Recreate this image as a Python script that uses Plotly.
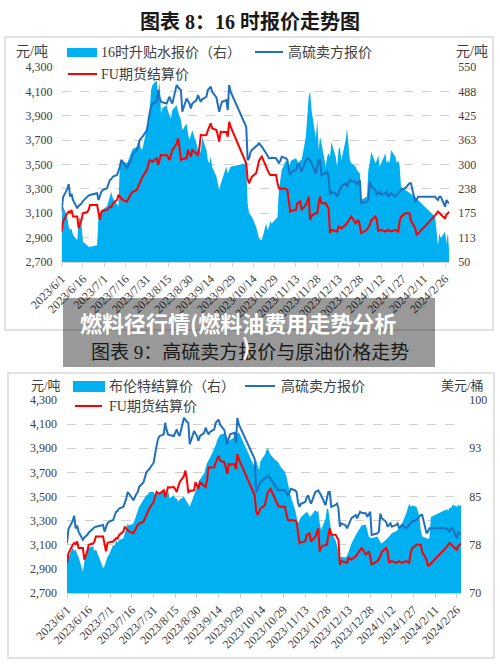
import plotly.graph_objects as go
import pandas as pd

W, H = 500, 667
def px(x): return x / W
def py(y): return 1 - y / H

# ---------------- data ----------------
trade_days = [
    (2023, 6, [1, 2, 5, 6, 7, 8, 9, 12, 13, 14, 15, 16, 19, 20, 21, 26, 27, 28, 29, 30]),
    (2023, 7, [3, 4, 5, 6, 7, 10, 11, 12, 13, 14, 17, 18, 19, 20, 21, 24, 25, 26, 27, 28, 31]),
    (2023, 8, [1, 2, 3, 4, 7, 8, 9, 10, 11, 14, 15, 16, 17, 18, 21, 22, 23, 24, 25, 28, 29, 30, 31]),
    (2023, 9, [1, 4, 5, 6, 7, 8, 11, 12, 13, 14, 15, 18, 19, 20, 21, 22, 25, 26, 27, 28]),
    (2023, 10, [9, 10, 11, 12, 13, 16, 17, 18, 19, 20, 23, 24, 25, 26, 27, 30, 31]),
    (2023, 11, [1, 2, 3, 6, 7, 8, 9, 10, 13, 14, 15, 16, 17, 20, 21, 22, 23, 24, 27, 28, 29, 30]),
    (2023, 12, [1, 4, 5, 6, 7, 8, 11, 12, 13, 14, 15, 18, 19, 20, 21, 22, 25, 26, 27, 28, 29]),
    (2024, 1, [2, 3, 4, 5, 8, 9, 10, 11, 12, 15, 16, 17, 18, 19, 22, 23, 24, 25, 26, 29, 30, 31]),
    (2024, 2, [1, 2, 5, 6, 7, 8, 19, 20, 21, 22, 23, 26, 27, 28, 29]),
]
dates = [f"{y}-{m:02d}-{d:02d}" for y, m, ds in trade_days for d in ds]

# 高硫卖方报价 (元/吨)
hs_offer = [
    3113, 3230, 3300, 3340, 3236, 3260, 3209, 3141, 3160, 3170, 3180, 3200, 3236, 3245, 3250, 3264, 3209, 3255, 3277, 3290,
    3305, 3340, 3373, 3380, 3400, 3414, 3441, 3480, 3537, 3523, 3469, 3500, 3520, 3537, 3580, 3619, 3660, 3701, 3715, 3728, 3780,
    3865, 3920, 3974, 4000, 4015, 4111, 4050, 4015, 4010, 4001, 4030, 4056, 4020, 4001, 4152, 4130, 4120, 4111, 3933, 4042, 4020, 4001, 3960,
    4000, 4028, 4070, 4040, 4015, 4035, 4056, 4111, 4125, 4138, 4097, 4050, 3990, 3933, 3980, 4015, 4028, 3947, 4152, 4097,
    3810, 3537, 3551, 3600, 3620, 3646, 3660, 3674, 3660, 3646, 3592, 3570, 3551, 3551, 3555, 3551, 3530,
    3510, 3530, 3564, 3550, 3537, 3450, 3414, 3440, 3455, 3490, 3510, 3470, 3441, 3537, 3545, 3551, 3530, 3510, 3428, 3480, 3537, 3537,
    3414, 3430, 3441, 3400, 3250, 3277, 3260, 3236, 3270, 3291, 3320, 3346, 3318, 3350, 3373, 3365, 3359, 3332, 3350, 3373, 3182,
    3195, 3209, 3359, 3320, 3291, 3250, 3265, 3277, 3250, 3265, 3277, 3236, 3250, 3264, 3236, 3250, 3264, 3280, 3291, 3305, 3318, 3330,
    3346, 3346, 3195, 3210, 3236, 3236, 3236, 3220, 3209, 3236, 3236, 3154, 3209, 3190, 3182,
]

# FU期货结算价 (元/吨)
fu_settle = [
    2949, 3030, 3100, 3113, 3105, 3127, 3073, 3073, 2977, 3010, 3045, 3100, 3110, 3127, 3168, 3168, 3100, 3045, 3113, 3120,
    3127, 3140, 3154, 3150, 3180, 3209, 3250, 3235, 3223, 3210, 3195, 3220, 3240, 3264, 3275, 3291, 3320, 3346, 3380, 3400, 3455,
    3500, 3537, 3530, 3523, 3551, 3496, 3540, 3578, 3575, 3578, 3560, 3537, 3580, 3619, 3670, 3715, 3640, 3537, 3545, 3551, 3619, 3590, 3564,
    3619, 3590, 3578, 3632, 3742, 3740, 3742, 3780, 3810, 3838, 3797, 3783, 3740, 3687, 3769, 3765, 3769, 3728, 3851, 3810,
    3510, 3380, 3346, 3380, 3400, 3428, 3480, 3530, 3550, 3564, 3482, 3450, 3430, 3414, 3414, 3414, 3350,
    3305, 3300, 3305, 3300, 3291, 3200, 3113, 3120, 3127, 3182, 3190, 3195, 3127, 3168, 3200, 3236, 3045, 3080, 3100, 3100, 3180, 3236,
    3182, 3182, 3160, 3141, 2936, 2964, 2955, 2950, 2990, 2985, 2977, 3004, 3020, 3045, 3060, 3073, 3018, 3030, 3045, 3000, 2936,
    2964, 2985, 3004, 3040, 3073, 3045, 2950, 2960, 2964, 2950, 2958, 2964, 2955, 2950, 2964, 2955, 2950, 3032, 3070, 3100, 3100, 3095,
    3100, 3040, 2977, 2922, 2930, 2945, 3082, 3100, 3113, 3105, 3090, 3059, 3090, 3100, 3113,
]

# 16时升贴水报价 (右轴)
spread_16 = [
    158, 192, 166, 140, 132, 136, 120, 106, 158, 166, 149, 102, 93, 89, 89, 93, 166, 175, 179, 185,
    192, 205, 217, 230, 215, 200, 192, 303, 311, 308, 303, 311, 320, 333, 340, 345, 352, 358, 337, 341, 393,
    420, 440, 491, 504, 516, 478, 512, 431, 445, 452, 435, 425, 418, 440, 452, 435, 425, 414, 388, 405, 380, 363, 375,
    388, 354, 337, 354, 329, 371, 337, 310, 303, 320, 294, 269, 250, 235, 250, 260, 294, 277, 286, 294,
    303, 200, 175, 170, 166, 140, 124, 111, 108, 106, 149, 132, 140, 154, 149, 162, 165,
    235, 260, 286, 311, 300, 294, 305, 311, 316, 310, 303, 311, 311, 371, 414, 474, 487, 440, 367, 414, 337, 371,
    354, 294, 320, 329, 320, 358, 320, 294, 337, 345, 311, 363, 393, 354, 311, 303, 295, 286, 280, 277, 209,
    218, 286, 303, 333, 303, 311, 324, 294, 303, 329, 303, 311, 303, 337, 320, 303, 311, 299, 243, 235, 233, 231,
    228, 226, 218, 214, 209, 205, 166, 124, 93, 124, 111, 128, 98, 124, 72,
]

# 布伦特结算价 (美元/桶, 右轴)
brent = [
    75.1, 75.6, 77.1, 76.5, 76.8, 76.0, 75.6, 73.3, 74.5, 76.3, 76.8, 77.0, 77.3, 76.5, 76.8, 73.9, 74.2, 75.1, 75.6, 75.9,
    77.5, 77.3, 78.2, 77.8, 78.2, 78.5, 79.5, 80.0, 80.8, 80.5, 80.8, 81.4, 82.1, 82.5, 83.4, 84.5, 84.8, 85.2, 85.3, 85.7, 85.7,
    85.2, 86.0, 85.5, 85.5, 86.0, 85.5, 85.2, 86.0, 84.7, 85.2, 84.7, 84.7, 84.2, 84.5, 85.0, 84.5, 84.2, 83.8, 83.4, 85.0, 85.8, 86.5, 87.0,
    87.6, 88.6, 89.5, 90.2, 90.6, 91.0, 92.5, 93.0, 93.8, 94.2, 94.6, 94.8, 94.5, 94.2, 93.5, 93.8, 94.2, 94.0, 94.8, 95.0,
    89.5, 90.7, 89.8, 89.1, 90.5, 91.5, 92.2, 92.5, 92.0, 91.5, 90.7, 90.5, 90.4, 90.0, 89.6, 88.8, 88.1,
    87.0, 86.0, 85.0, 82.9, 81.9, 80.8, 81.3, 81.8, 82.4, 82.6, 82.4, 81.8, 82.0, 82.9, 82.6, 82.8, 80.8, 79.8, 81.5, 83.2, 82.9, 81.0,
    79.5, 78.2, 77.2, 76.2, 75.5, 75.6, 75.5, 75.8, 76.5, 77.0, 77.7, 79.0, 79.4, 79.8, 80.3, 80.5, 80.6, 79.8, 78.8, 78.6, 78.5,
    78.8, 78.2, 77.9, 77.7, 78.2, 78.5, 78.8, 79.0, 79.3, 79.6, 79.8, 80.1, 80.4, 80.8, 82.4, 83.2, 83.9, 83.4, 83.6, 83.4, 82.8, 82.0,
    79.8, 78.8, 78.5, 78.4, 78.6, 81.8, 83.0, 82.8, 83.3, 83.2, 83.7, 83.4, 83.7, 83.5, 83.7,
]

for s in (hs_offer, fu_settle, spread_16, brent):
    assert len(s) == len(dates), len(s)

xtick_labels = ["2023/6/1", "2023/6/16", "2023/7/1", "2023/7/16", "2023/7/31", "2023/8/15",
                "2023/8/30", "2023/9/14", "2023/9/29", "2023/10/14", "2023/10/29", "2023/11/13",
                "2023/11/28", "2023/12/13", "2023/12/28", "2024/1/12", "2024/1/27", "2024/2/11",
                "2024/2/26"]
xtick_vals = [pd.to_datetime(s, format="%Y/%m/%d").strftime("%Y-%m-%d") for s in xtick_labels]

left_ticks = [2700, 2900, 3100, 3300, 3500, 3700, 3900, 4100, 4300]
r1_vals = [50, 112.5, 175, 237.5, 300, 362.5, 425, 487.5, 550]
r1_text = ["50", "113", "175", "238", "300", "363", "425", "488", "550"]
r2_vals = [70, 73.75, 77.5, 81.25, 85, 88.75, 92.5, 96.25, 100]
r2_text = ["70", "", "78", "", "85", "", "93", "", "100"]

# ---------------- style ----------------
AREA = "#00B0F0"
BLUE = "#2070C0"
RED = "#FF0000"
TXT = "#404040"
GRID = "#d0d0d0"
FONT = "Liberation Serif, Noto Sans CJK SC"
CJK = "Noto Sans CJK SC"

fig = go.Figure()

# chart 1
fig.add_trace(go.Scatter(x=dates, y=spread_16, mode="lines", line=dict(width=0, color=AREA),
                         fill="tozeroy", fillcolor=AREA, xaxis="x", yaxis="y", name="16时升贴水报价（右）"))
fig.add_trace(go.Scatter(x=dates, y=hs_offer, mode="lines", line=dict(width=2, color=BLUE),
                         xaxis="x", yaxis="y2", name="高硫卖方报价"))
fig.add_trace(go.Scatter(x=dates, y=fu_settle, mode="lines", line=dict(width=2, color=RED),
                         xaxis="x", yaxis="y2", name="FU期货结算价"))
# chart 2
fig.add_trace(go.Scatter(x=dates, y=brent, mode="lines", line=dict(width=0, color=AREA),
                         fill="tozeroy", fillcolor=AREA, xaxis="x2", yaxis="y3", name="布伦特结算价（右）"))
fig.add_trace(go.Scatter(x=dates, y=hs_offer, mode="lines", line=dict(width=2, color=BLUE),
                         xaxis="x2", yaxis="y4", name="高硫卖方报价"))
fig.add_trace(go.Scatter(x=dates, y=fu_settle, mode="lines", line=dict(width=2, color=RED),
                         xaxis="x2", yaxis="y4", name="FU期货结算价"))

tickfont = dict(family=FONT, size=12, color=TXT)
xcommon = dict(type="date", range=[dates[0], dates[-1]], tickvals=xtick_vals, ticktext=xtick_labels,
               tickangle=-45, tickfont=tickfont, showline=True, linecolor="#d0d0d0", linewidth=1,
               ticks="outside", ticklen=4, tickcolor="#d0d0d0", showgrid=False, zeroline=False,
               fixedrange=True, automargin=False)
ycommon = dict(tickfont=tickfont, zeroline=False, showline=False, automargin=False, fixedrange=True)

c1_dom = [py(262), py(67)]
c2_dom = [py(593), py(400)]

fig.update_layout(
    width=W, height=H, margin=dict(l=0, r=0, t=0, b=0, pad=0, autoexpand=False),
    paper_bgcolor="white", plot_bgcolor="white", showlegend=False,
    xaxis=dict(domain=[px(61.6), px(449.3)], anchor="y", **xcommon),
    yaxis=dict(domain=c1_dom, anchor="x", side="right", range=[50, 550], tickvals=r1_vals,
               ticktext=r1_text, showgrid=True, gridcolor=GRID, griddash="dash",
               gridwidth=1, ticklabelstandoff=8, **ycommon),
    yaxis2=dict(anchor="x", overlaying="y", side="left", range=[2700, 4300], tickvals=left_ticks,
                tickformat=",d", showgrid=False, ticklabelstandoff=8, **ycommon),
    xaxis2=dict(domain=[px(67), px(461.2)], anchor="y3", **xcommon),
    yaxis3=dict(domain=c2_dom, anchor="x2", side="right", range=[70, 100], tickvals=r2_vals,
                ticktext=r2_text, showgrid=True, gridcolor=GRID, griddash="dash",
                gridwidth=1, ticklabelstandoff=7, **ycommon),
    yaxis4=dict(anchor="x2", overlaying="y3", side="left", range=[2700, 4300], tickvals=left_ticks,
                tickformat=",d", showgrid=False, ticklabelstandoff=9, **ycommon),
)

shapes = []
annos = []

def rect(x0, y0, x1, y1, **kw):
    shapes.append(dict(type="rect", xref="paper", yref="paper", x0=px(x0), x1=px(x1),
                       y0=py(y1), y1=py(y0), **kw))

def hline(x0, x1, y, color, width=2):
    shapes.append(dict(type="line", xref="paper", yref="paper", x0=px(x0), x1=px(x1),
                       y0=py(y), y1=py(y), line=dict(color=color, width=width)))

def text(x, y, s, size=14, color=TXT, xanchor="left", family=FONT, **kw):
    annos.append(dict(xref="paper", yref="paper", x=px(x), y=py(y), text=s, showarrow=False,
                      xanchor=xanchor, yanchor="middle", font=dict(family=family, size=size, color=color),
                      **kw))

# chart frames
rect(5, 37, 493, 330, line=dict(color="#d9d9d9", width=1.5), fillcolor="rgba(0,0,0,0)", layer="below")
rect(8, 373, 494, 658, line=dict(color="#d9d9d9", width=1.5), fillcolor="rgba(0,0,0,0)", layer="below")

# titles
text(250, 22, "<b>图表 8：16 时报价走势图</b>", size=20, color="#1a1a1a", xanchor="center")
text(250, 352, "图表 9：高硫卖方报价与原油价格走势", size=19, color="#1a1a1a", xanchor="center")

# chart 1 legend + units
text(32, 51, "元/吨", size=14, xanchor="center")
text(472, 51, "元/吨", size=14, xanchor="center")
rect(67, 48, 97, 57, line=dict(width=0), fillcolor=AREA)
text(99, 52, "16时升贴水报价（右）")
hline(255, 283, 52, BLUE)
text(286, 52, "高硫卖方报价")
hline(68, 97, 74, RED)
text(99, 74, "FU期货结算价")

# chart 2 legend + units
text(46, 385, "元/吨", size=13, xanchor="center")
text(462, 385, "美元/桶", size=13, xanchor="center")
rect(73, 381, 105, 392, line=dict(width=0), fillcolor=AREA)
text(107, 386, "布伦特结算价（右）")
hline(245, 275, 386, BLUE)
text(279, 386, "高硫卖方报价")
hline(75, 102, 406, RED)
text(107, 406, "FU期货结算价")

# overlay caption
rect(63, 298, 435, 367, line=dict(width=0), fillcolor="rgba(0,0,0,0.40)", layer="above")
text(238, 322, "<b>燃料径行情(燃料油费用走势分析</b>", size=22, color="white", xanchor="center", family=CJK)
text(246, 345, "<b>)</b>", size=22, color="white", xanchor="center", family=CJK)

fig.update_layout(shapes=shapes, annotations=annos)
fig.write_html("out.html")
